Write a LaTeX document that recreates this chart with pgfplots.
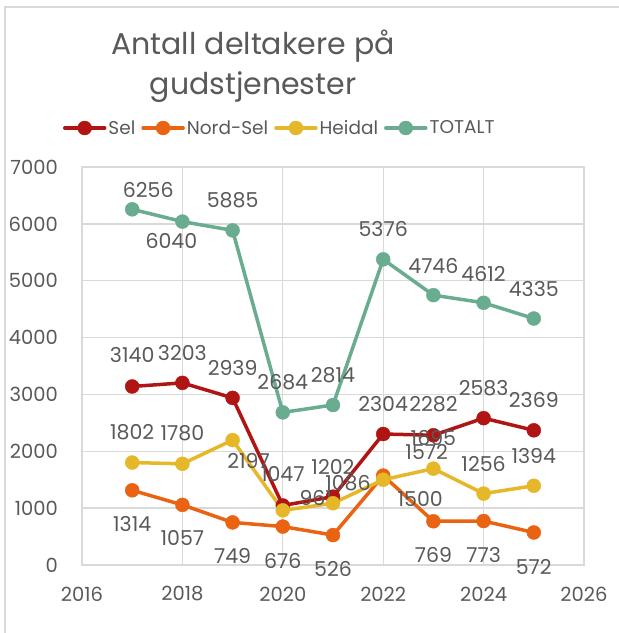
\documentclass[border=0pt]{standalone}
\usepackage{fontspec}
\setmainfont{Poppins}
\usepackage{pgfplots}
\pgfplotsset{compat=1.18}
\usepackage{pgfplotstable}
\definecolor{selc}{HTML}{B01513}
\definecolor{nordc}{HTML}{EA6312}
\definecolor{heic}{HTML}{E6B729}
\definecolor{totc}{HTML}{6AAC90}
\definecolor{txt}{HTML}{595959}
\definecolor{gridc}{HTML}{D9D9D9}

\pgfplotstableread{
x y dx dy
2017 3140 0 31
2018 3203 0 30
2019 2939 0 30
2020 1047 0 31
2021 1202 0 30
2022 2304 0 30
2023 2282 0 31
2024 2583 0 30
2025 2369 0 30
}\tabSel
\pgfplotstableread{
x y dx dy
2017 1314 0 -34
2018 1057 0 -33
2019 749 0 -34
2020 676 0 -34
2021 526 0 -34
2022 1572 43.5 24
2023 769 0 -34
2024 773 0 -34
2025 572 0 -34
}\tabNord
\pgfplotstableread{
x y dx dy
2017 1802 0 30
2018 1780 0 31
2019 2197 16 -21
2020 961 33 12
2021 1086 15 20
2022 1500 37 -19.5
2023 1695 0 31
2024 1256 0 30
2025 1394 0 30
}\tabHei
\pgfplotstableread{
x y dx dy
2017 6256 16 19
2018 6040 -11 -19
2019 5885 0 30
2020 2684 0 30
2021 2814 0 30
2022 5376 0 30
2023 4746 0 29
2024 4612 0 29
2025 4335 0 30
}\tabTot

\begin{document}
\begin{tikzpicture}
\useasboundingbox (0,0) rectangle (619pt,633pt);
\draw[gridc, line width=1.5pt] (5pt,-20pt) rectangle (660pt,626pt);
\node[anchor=base, text=txt, font=\fontsize{30}{36}\selectfont, inner sep=0pt] at (253pt,578pt) {Antall deltakere på};
\node[anchor=base, text=txt, font=\fontsize{30}{36}\selectfont, inner sep=0pt] at (253pt,538pt) {gudstjenester};
\begin{axis}[
  at={(82pt,68pt)}, anchor=south west,
  scale only axis, width=502pt, height=398pt,
  xmin=2016, xmax=2026, ymin=0, ymax=7000,
  xtick={2016,2018,...,2026}, ytick={0,1000,...,7000},
  grid=major, major grid style={gridc, line width=1.3pt},
  axis line style={gridc, line width=1.3pt},
  major tick length=0pt,
  tick label style={text=txt, font=\fontsize{19.5}{24}\selectfont},
  /pgf/number format/1000 sep={},
  /pgf/number format/assume math mode=true,
  xticklabel style={anchor=center, yshift=-29pt, inner sep=0pt},
  yticklabel style={anchor=east, xshift=-24pt, inner sep=0pt},
  clip=false,
  legend columns=4,
  legend style={draw=none, fill=none, at={(rel axis cs:0.394,1.098)}, anchor=center,
    font=\fontsize{18.5}{22}\selectfont, text=txt,
    /tikz/every even column/.append style={column sep=4pt}},
  legend image code/.code={\draw[mark repeat=2,mark phase=2,#1] plot coordinates {(0pt,0pt)(20pt,0pt)(40pt,0pt)};},
  nodes near coords,
  visualization depends on={\thisrow{dx}\as\labdx},
  visualization depends on={\thisrow{dy}\as\labdy},
  every node near coord/.append style={anchor=center, xshift=\labdx pt, yshift=\labdy pt,
    text=txt, font=\fontsize{20.5}{24}\selectfont, inner sep=0pt},
  myline/.style={line width=3.5pt, mark=*, mark size=7pt, mark options={line width=0.4pt}, line join=round, line cap=round},
]
\addplot[selc, myline] table[x=x, y=y] {\tabSel};
\addlegendentry{Sel}
\addplot[nordc, myline] table[x=x, y=y] {\tabNord};
\addlegendentry{Nord-Sel}
\addplot[heic, myline] table[x=x, y=y] {\tabHei};
\addlegendentry{Heidal}
\addplot[totc, myline] table[x=x, y=y] {\tabTot};
\addlegendentry{TOTALT}
\end{axis}
\end{tikzpicture}
\end{document}
